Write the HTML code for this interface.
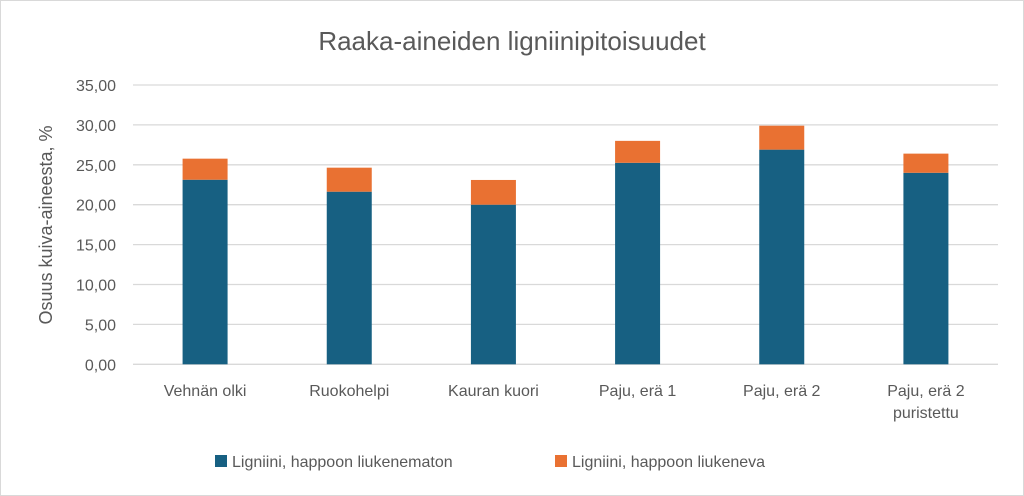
<!DOCTYPE html>
<html><head><meta charset="utf-8"><style>
body{margin:0;background:#fff;}
svg{display:block;font-family:"Liberation Sans",sans-serif;}
</style></head><body>
<svg width="1024" height="496" id="chart">
<rect x="0.5" y="0.5" width="1023" height="495" fill="#fff" stroke="#d9d9d9"/>
<text x="512" y="50" text-anchor="middle" font-size="26" fill="#595959">Raaka-aineiden ligniinipitoisuudet</text>
<text transform="translate(52,225) rotate(-90)" text-anchor="middle" font-size="18" fill="#595959">Osuus kuiva-aineesta, %</text>
<g id="grid"></g><g id="bars"></g><g id="xlabels"></g>
<g>
<rect x="215" y="455" width="12" height="12" fill="#176082"/>
<text x="232" y="467" font-size="16" fill="#595959">Ligniini, happoon liukenematon</text>
<rect x="555" y="455" width="12" height="12" fill="#e97132"/>
<text x="572" y="467" font-size="16" fill="#595959">Ligniini, happoon liukeneva</text>
</g>
</svg>
<script>
const categories=[["Vehnän olki"],["Ruokohelpi"],["Kauran kuori"],["Paju, erä 1"],["Paju, erä 2"],["Paju, erä 2","puristettu"]];
const insoluble=[23.13,21.63,20.0,25.25,26.9,24.0];
const soluble=[2.64,3.01,3.1,2.75,3.0,2.4];
const ticks=[0,5,10,15,20,25,30,35];
const tickLabels=["0,00","5,00","10,00","15,00","20,00","25,00","30,00","35,00"];
const NS="http://www.w3.org/2000/svg";
const x0=133,x1=998,yBase=364.3,yTop=85;
const y=v=>yBase-(v/35)*(yBase-yTop);
const bw=(x1-x0)/categories.length;
const xc=i=>x0+bw*(i+0.5);
function mk(t,a,p){const e=document.createElementNS(NS,t);for(const k in a)e.setAttribute(k,a[k]);p.appendChild(e);return e;}
const g=document.getElementById('grid');
ticks.forEach((t,i)=>{
 const l=mk('line',{x1:x0,x2:x1,y1:y(t),y2:y(t),stroke:'#d9d9d9','stroke-width':1.3},g);
 
 
 const tx=mk('text',{x:116,y:y(t)+6,'text-anchor':'end','font-size':16,fill:'#595959'},g);
 tx.textContent=tickLabels[i];
 
 
});
const b=document.getElementById('bars'),xl=document.getElementById('xlabels');
categories.forEach((c,i)=>{
 const w=45,x=xc(i)-w/2;
 const r1=mk('rect',{x:x,y:y(insoluble[i]),width:w,height:yBase-y(insoluble[i]),fill:'#176082'},b);
 
 
 const top=insoluble[i]+soluble[i];
 const r2=mk('rect',{x:x,y:y(top),width:w,height:y(insoluble[i])-y(top),fill:'#e97132'},b);
 
 
 c.forEach((line,j)=>{
  const t=mk('text',{x:xc(i),y:396+j*22,'text-anchor':'middle','font-size':16,fill:'#595959'},xl);
  t.textContent=line;
  
  
 });
});
</script>
</body></html>
